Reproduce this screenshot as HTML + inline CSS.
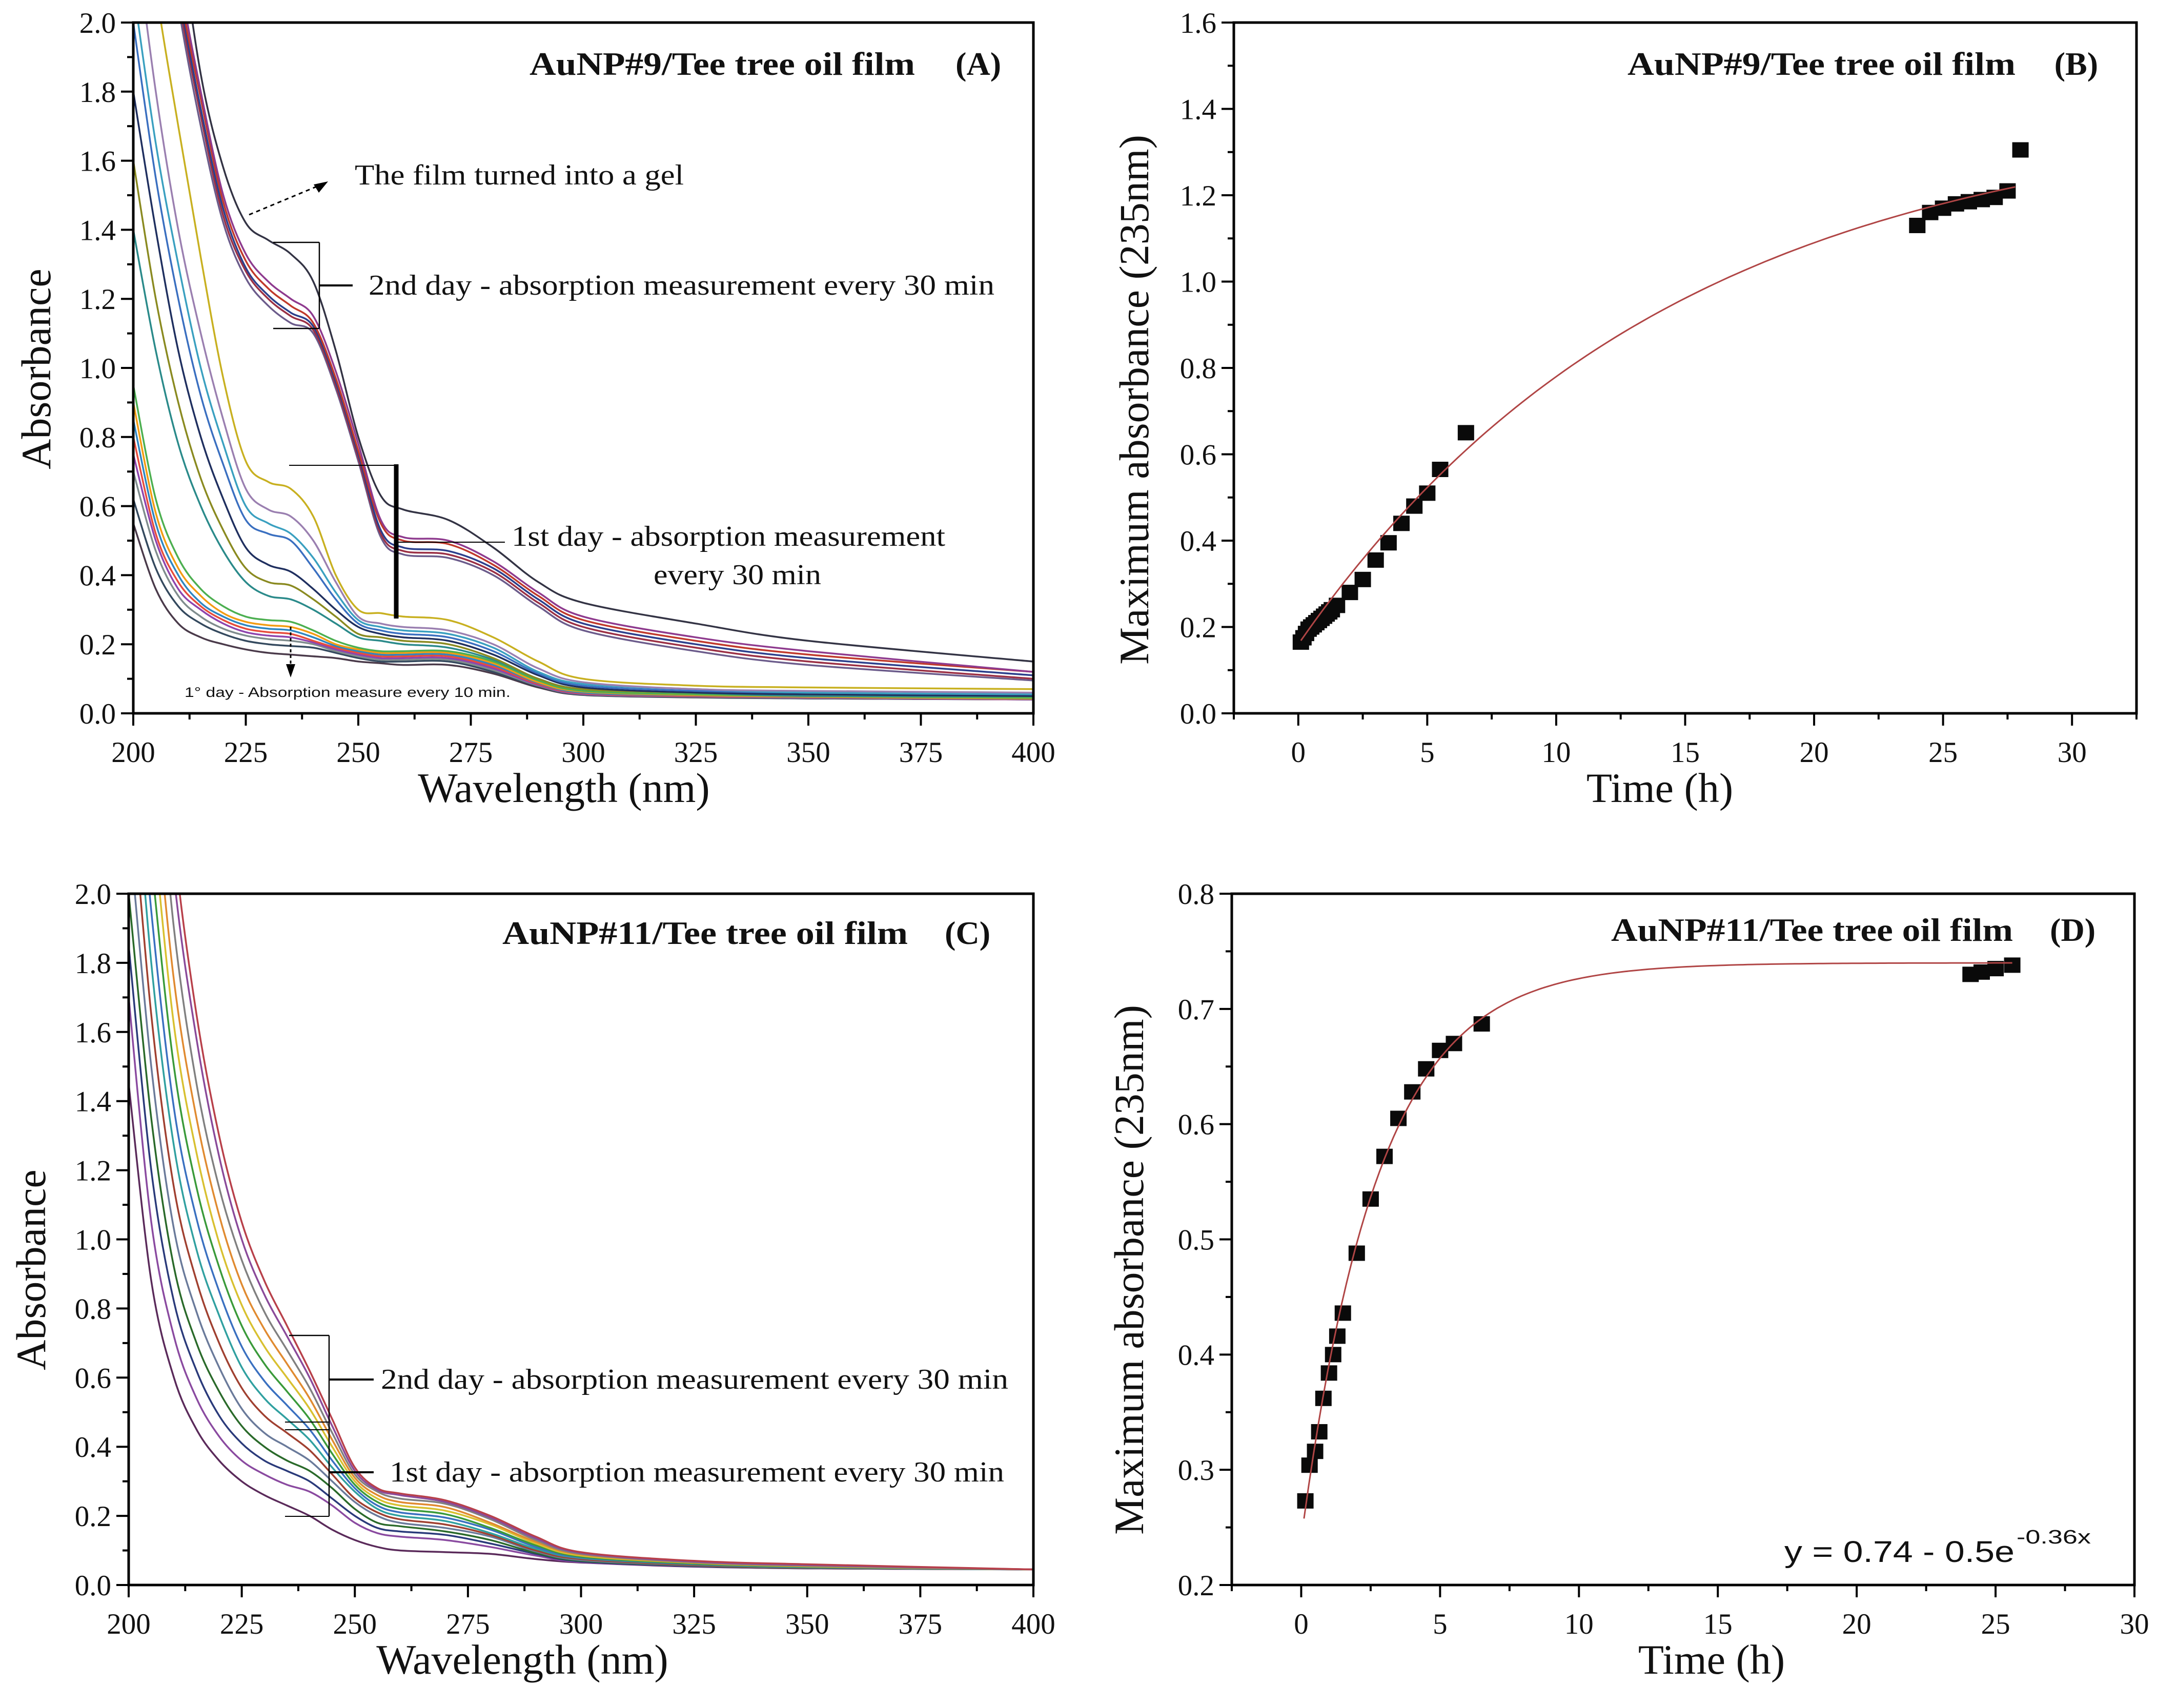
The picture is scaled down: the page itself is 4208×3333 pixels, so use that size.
<!DOCTYPE html>
<html><head><meta charset="utf-8"><style>
html,body{margin:0;padding:0;background:#fff;}
svg{display:block;}
text{fill:#111;}
</style></head><body>
<svg id="fig" width="4208" height="3333" viewBox="0 0 4208 3333" xmlns="http://www.w3.org/2000/svg" font-family="Liberation Serif, serif">
<rect width="4208" height="3333" fill="#fff"/>
<defs>
<clipPath id="clipA"><rect x="260" y="44" width="1756" height="1348"/></clipPath>
<clipPath id="clipC"><rect x="251" y="1744" width="1765" height="1349"/></clipPath>
<clipPath id="clipB"><rect x="2407" y="44" width="1761" height="1348"/></clipPath>
<clipPath id="clipD"><rect x="2403" y="1744" width="1761" height="1349"/></clipPath>
</defs>
<g id="panelA"></g>
<g id="panelB"></g>
<g id="panelC"></g>
<g id="panelD"></g>
</svg>
<script>
// ---------- data ----------
const wavelengths = [200,205,210,215,220,225,230,235,240,245,250,255,260,270,280,290,300,325,350,400];
const spectraA = [
[3.2,2.8,2.3,1.85,1.58,1.42,1.37,1.33,1.25,1.05,0.80,0.63,0.59,0.56,0.48,0.38,0.32,0.26,0.21,0.15],
[3.2,2.6,2.15,1.8,1.5,1.33,1.25,1.2,1.15,0.99,0.78,0.56,0.51,0.50,0.44,0.35,0.28,0.22,0.18,0.12],
[3.2,2.6,2.12,1.78,1.48,1.31,1.23,1.18,1.13,0.97,0.76,0.55,0.50,0.49,0.43,0.34,0.27,0.21,0.17,0.12],
[3.2,2.55,2.1,1.75,1.46,1.29,1.21,1.16,1.12,0.96,0.75,0.53,0.48,0.47,0.42,0.33,0.26,0.20,0.16,0.11],
[3.2,2.55,2.08,1.73,1.44,1.28,1.2,1.15,1.11,0.95,0.74,0.52,0.47,0.46,0.41,0.32,0.25,0.19,0.15,0.10],
[3.2,2.5,2.05,1.7,1.42,1.26,1.18,1.13,1.10,0.94,0.73,0.51,0.46,0.45,0.40,0.31,0.24,0.18,0.14,0.095],
[2.6,2.1,1.7,1.32,0.97,0.73,0.67,0.65,0.57,0.40,0.30,0.29,0.28,0.27,0.22,0.15,0.10,0.08,0.075,0.07],
[2.3,1.8,1.4,1.1,0.85,0.65,0.59,0.57,0.50,0.38,0.28,0.26,0.25,0.24,0.20,0.13,0.09,0.07,0.065,0.06],
[2.1,1.65,1.3,1.0,0.78,0.60,0.55,0.52,0.45,0.35,0.27,0.25,0.24,0.23,0.19,0.12,0.085,0.07,0.06,0.055],
[2.0,1.55,1.2,0.92,0.72,0.56,0.52,0.50,0.42,0.33,0.26,0.24,0.23,0.22,0.18,0.115,0.08,0.065,0.06,0.055],
[1.8,1.4,1.05,0.8,0.62,0.48,0.43,0.41,0.36,0.30,0.25,0.23,0.22,0.21,0.17,0.11,0.075,0.06,0.055,0.05],
[1.6,1.2,0.9,0.68,0.53,0.42,0.38,0.37,0.33,0.28,0.23,0.22,0.21,0.20,0.16,0.10,0.07,0.06,0.055,0.05],
[1.4,1.05,0.78,0.6,0.47,0.38,0.34,0.33,0.30,0.26,0.22,0.21,0.20,0.19,0.155,0.10,0.07,0.06,0.05,0.05],
[0.95,0.62,0.45,0.36,0.31,0.28,0.27,0.265,0.24,0.21,0.19,0.18,0.18,0.18,0.15,0.095,0.065,0.055,0.05,0.045],
[0.9,0.58,0.42,0.34,0.29,0.265,0.255,0.25,0.23,0.2,0.185,0.175,0.175,0.175,0.145,0.09,0.063,0.053,0.048,0.043],
[0.85,0.55,0.4,0.32,0.28,0.255,0.245,0.24,0.22,0.195,0.18,0.17,0.17,0.17,0.14,0.088,0.06,0.052,0.047,0.042],
[0.8,0.52,0.38,0.31,0.27,0.245,0.235,0.23,0.21,0.19,0.175,0.165,0.165,0.165,0.135,0.085,0.058,0.05,0.046,0.041],
[0.75,0.5,0.36,0.3,0.26,0.235,0.225,0.22,0.205,0.185,0.17,0.16,0.16,0.16,0.13,0.082,0.056,0.049,0.045,0.04],
[0.7,0.47,0.34,0.28,0.245,0.225,0.215,0.21,0.2,0.18,0.165,0.155,0.155,0.155,0.125,0.08,0.055,0.048,0.044,0.04],
[0.62,0.42,0.31,0.26,0.23,0.21,0.2,0.195,0.19,0.175,0.16,0.15,0.15,0.15,0.12,0.078,0.054,0.047,0.043,0.04],
[0.55,0.36,0.26,0.22,0.2,0.185,0.175,0.17,0.165,0.16,0.15,0.145,0.14,0.14,0.115,0.075,0.053,0.046,0.043,0.04]
];
const colorsA = ["#333344","#8e3a8e","#c0392b","#2b3f8c","#9b3045","#6b5b8b","#c8b020","#9a7fb0","#3aa0c0","#3a6fc0","#1f2f5f","#8a8a20","#2a8a8a","#4caf50","#f39c12","#2e86c1","#e74c3c","#8e44ad","#7f8c8d","#34495e","#4a3a4a"];
const spectraC = [
[3.5,2.9,2.15,1.65,1.3,1.05,0.88,0.75,0.62,0.48,0.34,0.28,0.265,0.245,0.2,0.14,0.095,0.07,0.06,0.045],
[3.3,2.8,2.05,1.58,1.24,1.0,0.84,0.72,0.6,0.46,0.33,0.275,0.26,0.24,0.195,0.135,0.093,0.068,0.058,0.045],
[3.1,2.6,1.9,1.45,1.15,0.94,0.79,0.68,0.57,0.44,0.32,0.27,0.25,0.235,0.19,0.13,0.09,0.066,0.056,0.045],
[3.0,2.4,1.75,1.35,1.07,0.87,0.74,0.64,0.54,0.42,0.31,0.26,0.24,0.225,0.18,0.125,0.088,0.065,0.055,0.045],
[2.9,2.25,1.62,1.25,0.99,0.81,0.69,0.6,0.51,0.4,0.3,0.25,0.23,0.215,0.175,0.12,0.085,0.064,0.054,0.045],
[2.8,2.1,1.5,1.15,0.92,0.75,0.64,0.56,0.48,0.38,0.29,0.24,0.22,0.205,0.165,0.115,0.082,0.062,0.053,0.045],
[2.7,1.95,1.38,1.06,0.85,0.69,0.59,0.52,0.45,0.36,0.28,0.23,0.21,0.195,0.16,0.11,0.08,0.061,0.052,0.045],
[2.6,1.8,1.27,0.97,0.78,0.63,0.54,0.48,0.42,0.34,0.27,0.22,0.2,0.185,0.15,0.105,0.078,0.06,0.051,0.045],
[2.4,1.65,1.15,0.88,0.7,0.57,0.49,0.44,0.39,0.32,0.25,0.21,0.19,0.175,0.145,0.1,0.075,0.058,0.05,0.045],
[2.2,1.5,1.03,0.79,0.63,0.51,0.44,0.4,0.36,0.3,0.24,0.2,0.18,0.165,0.14,0.097,0.072,0.057,0.05,0.045],
[2.0,1.35,0.92,0.7,0.56,0.46,0.4,0.36,0.33,0.28,0.22,0.18,0.17,0.155,0.13,0.093,0.07,0.056,0.049,0.045],
[1.85,1.2,0.82,0.62,0.49,0.41,0.36,0.33,0.3,0.25,0.2,0.165,0.155,0.145,0.12,0.09,0.068,0.055,0.049,0.045],
[1.7,1.05,0.72,0.54,0.43,0.36,0.32,0.29,0.27,0.23,0.18,0.15,0.14,0.13,0.11,0.085,0.066,0.054,0.048,0.045],
[1.45,0.88,0.6,0.45,0.36,0.3,0.26,0.23,0.2,0.16,0.13,0.11,0.1,0.095,0.09,0.075,0.065,0.053,0.048,0.045]
];
const colorsC = ["#b8404a","#8a4a9a","#808080","#e08a30","#d8c030","#3a9a3a","#3a70c0","#30a0a0","#a04030","#6a7a9a","#2a6a2a","#2a3a7a","#8a4aa0","#5a2a5a"];
const timeB = [0.1,0.2,0.3,0.4,0.5,0.6,0.7,0.8,0.9,1.0,1.1,1.2,1.3,1.5,2.0,2.5,3.0,3.5,4.0,4.5,5.0,5.5,6.5,24,24.5,25,25.5,26,26.5,27,27.5,28];
const absB = [0.165,0.175,0.185,0.195,0.2,0.205,0.21,0.215,0.22,0.225,0.23,0.235,0.24,0.25,0.28,0.31,0.355,0.395,0.44,0.48,0.51,0.565,0.65,1.13,1.16,1.17,1.18,1.185,1.19,1.195,1.21,1.305];
const fitB = [1.40,1.24,0.0693]; // a, b, k : y = a - b e^{-kx}
const fitBRange = [0.1,27.8];
const timeD = [0.15,0.3,0.5,0.65,0.8,1.0,1.15,1.3,1.5,2.0,2.5,3.0,3.5,4.0,4.5,5.0,5.5,6.5,24.1,24.5,25.0,25.6];
const absD = [0.273,0.304,0.316,0.333,0.362,0.384,0.4,0.416,0.436,0.488,0.535,0.572,0.605,0.628,0.648,0.664,0.670,0.687,0.730,0.732,0.735,0.738];
const fitD = [0.74,0.5,0.36];
const fitDRange = [0.1,25.6];
const ticksAx = [200,225,250,275,300,325,350,375,400];
const ticksAy = [0.0,0.2,0.4,0.6,0.8,1.0,1.2,1.4,1.6,1.8,2.0];
const ticksBx = [0,5,10,15,20,25,30];
const ticksBy = [0.0,0.2,0.4,0.6,0.8,1.0,1.2,1.4,1.6];
const ticksDy = [0.2,0.3,0.4,0.5,0.6,0.7,0.8];

// ---------- helpers ----------
const NS="http://www.w3.org/2000/svg";
const SERIF="font-family:'Liberation Serif',serif";
const SANS="font-family:'Liberation Sans',sans-serif";
function mk(parent,tag,attrs){const e=document.createElementNS(NS,tag);for(const k in attrs)e.setAttribute(k,attrs[k]);parent.appendChild(e);return e;}
function lin(d0,d1,r0,r1){return v=>r0+(v-d0)/(d1-d0)*(r1-r0);}
function smoothPath(pts){
  let d="M"+pts[0][0].toFixed(1)+","+pts[0][1].toFixed(1);
  for(let i=0;i<pts.length-1;i++){
    const p0=pts[Math.max(0,i-1)],p1=pts[i],p2=pts[i+1],p3=pts[Math.min(pts.length-1,i+2)];
    const c1x=p1[0]+(p2[0]-p0[0])/6,c1y=p1[1]+(p2[1]-p0[1])/6;
    const c2x=p2[0]-(p3[0]-p1[0])/6,c2y=p2[1]-(p3[1]-p1[1])/6;
    d+=" C"+c1x.toFixed(1)+","+c1y.toFixed(1)+" "+c2x.toFixed(1)+","+c2y.toFixed(1)+" "+p2[0].toFixed(1)+","+p2[1].toFixed(1);
  }
  return d;
}
function axes(g,L,R,T,B,sx,sy,xt,xminor,yt,yminor,xtitle,ytitle,ytitleX,ytitleY,xtitleX){
  const fr=mk(g,"rect",{x:L,y:T,width:R-L,height:B-T,fill:"none",stroke:"#000","stroke-width":5});
  
  
  xminor.forEach(v=>{const l=mk(g,"line",{x1:sx(v),x2:sx(v),y1:B,y2:B+12,stroke:"#000","stroke-width":4});
    
    });
  xt.forEach(v=>{const l=mk(g,"line",{x1:sx(v),x2:sx(v),y1:B,y2:B+24,stroke:"#000","stroke-width":4});
    
    
    const t=mk(g,"text",{x:sx(v),y:B+95,"text-anchor":"middle","font-size":57,style:SERIF});t.textContent=String(v);
    
    });
  yminor.forEach(v=>{const l=mk(g,"line",{x1:L-12,x2:L,y1:sy(v),y2:sy(v),stroke:"#000","stroke-width":4});
    
    });
  yt.forEach(v=>{const l=mk(g,"line",{x1:L-24,x2:L,y1:sy(v),y2:sy(v),stroke:"#000","stroke-width":4});
    
    
    const t=mk(g,"text",{x:L-34,y:sy(v)+20,"text-anchor":"end","font-size":57,style:SERIF});t.textContent=v.toFixed(1);
    
    });
  const xtl=mk(g,"text",{x:xtitleX,y:B+173,"text-anchor":"middle","font-size":82,style:SERIF});xtl.textContent=xtitle;
  
  
  const ytl=mk(g,"text",{x:0,y:0,"text-anchor":"middle","font-size":82,style:SERIF,transform:"translate("+(ytitleX+28)+","+ytitleY+") rotate(-90)"});ytl.textContent=ytitle;
  
  
}
function range(a,b,s){const r=[];for(let v=a;v<=b+1e-9;v+=s)r.push(+v.toFixed(4));return r;}
function title(g,x1,len,x2,y,main,tag){
  const t=mk(g,"text",{x:x1,y:y,"font-size":64,"font-weight":"bold",style:SERIF,textLength:len,lengthAdjust:"spacingAndGlyphs"});t.textContent=main;
  
  
  const t2=mk(g,"text",{x:x2,y:y,"font-size":64,"font-weight":"bold","text-anchor":"end",style:SERIF});t2.textContent=tag;
  
  
}
function line(g,x1,y1,x2,y2,w,name,dash){const l=mk(g,"line",{x1:x1,y1:y1,x2:x2,y2:y2,stroke:"#000","stroke-width":w});if(dash)l.setAttribute("stroke-dasharray",dash);
  
  return l;}
function txt(g,x,y,s,size,len,name,fam){const t=mk(g,"text",{x:x,y:y,"font-size":size,style:fam||SERIF,textLength:len,lengthAdjust:"spacingAndGlyphs"});t.textContent=s;
  
  return t;}

// ---------- Panel A ----------
(function(){
  const g=document.getElementById("panelA");
  const L=260,R=2016,T=44,B=1392;
  const sx=lin(200,400,L,R),sy=lin(0,2,B,T);
  const cg=mk(g,"g",{"clip-path":"url(#clipA)"});
  
  
  for(let i=spectraA.length-1;i>=0;i--){
    const pts=wavelengths.map((w,j)=>[sx(w),sy(spectraA[i][j])]);
    const p=mk(cg,"path",{d:smoothPath(pts),fill:"none",stroke:colorsA[i],"stroke-width":3.5});
    
    
  }
  axes(g,L,R,T,B,sx,sy,ticksAx,range(212.5,387.5,25),ticksAy,range(0.1,1.9,0.2),"Wavelength (nm)","Absorbance",70,720,1100);
  title(g,1033,752,1953,146,"AuNP#9/Tee tree oil film","(A)");
  txt(g,692,360,"The film turned into a gel",56,642,"gel-annotation");
  line(g,486,419,625,361,3,"gel-arrow","8,7");
  mk(g,"path",{d:"M640,354 L612,360 L622,376 Z",fill:"#000"});
  line(g,533,473,623,473,2.5,"bracket-top");
  line(g,533,641,623,641,2.5,"bracket-bottom");
  line(g,623,473,623,641,2.5,"bracket-vertical");
  line(g,623,557,688,557,4,"bracket-tick");
  txt(g,719,575,"2nd day - absorption measurement  every 30 min",56,1221,"day2-annotation");
  line(g,564,908,773,908,2,"day1-top-line");
  line(g,773,906,773,1207,9,"day1-thick-bar");
  line(g,773,1058,985,1058,2,"day1-pointer");
  txt(g,998,1065,"1st day - absorption measurement",56,846,"day1-annotation");
  txt(g,1275,1140,"every 30 min",56,327,"day1-annotation-2");
  line(g,567,1223,567,1300,3,"10min-arrow","6,5");
  mk(g,"path",{d:"M558,1296 L576,1296 L567,1322 Z",fill:"#000"});
  txt(g,360,1360,"1° day - Absorption measure every 10 min.",27,636,"10min-annotation",SANS);
})();

// ---------- Panel C ----------
(function(){
  const g=document.getElementById("panelC");
  const L=251,R=2016,T=1744,B=3093;
  const sx=lin(200,400,L,R),sy=lin(0,2,B,T);
  const cg=mk(g,"g",{"clip-path":"url(#clipC)"});
  
  
  for(let i=spectraC.length-1;i>=0;i--){
    const pts=wavelengths.map((w,j)=>[sx(w),sy(spectraC[i][j])]);
    const p=mk(cg,"path",{d:smoothPath(pts),fill:"none",stroke:colorsC[i],"stroke-width":3.5});
    
    
  }
  axes(g,L,R,T,B,sx,sy,ticksAx,range(212.5,387.5,25),ticksAy,range(0.1,1.9,0.2),"Wavelength (nm)","Absorbance",60,2478,1019);
  title(g,980,791,1932,1842,"AuNP#11/Tee tree oil film","(C)");
  line(g,564,2606,642,2606,2.5,"bracket2-top");
  line(g,642,2606,642,2959,2.5,"bracket-vertical");
  line(g,556,2775,642,2775,2,"bracket2-bottom");
  line(g,556,2790,642,2790,2,"bracket1-top");
  line(g,556,2959,642,2959,2,"bracket1-bottom");
  line(g,642,2692,729,2692,4,"bracket2-tick");
  line(g,642,2873,729,2873,4,"bracket1-tick");
  txt(g,743,2710,"2nd day - absorption measurement  every 30 min",56,1224,"day2-annotation");
  txt(g,760,2891,"1st day - absorption measurement  every 30 min",56,1199,"day1-annotation");
})();

// ---------- Panel B ----------
(function(){
  const g=document.getElementById("panelB");
  const L=2407,R=4168,T=44,B=1392;
  const sx=lin(-2.5,32.5,L,R),sy=lin(0,1.6,B,T);
  const cg=mk(g,"g",{"clip-path":"url(#clipB)"});
  
  
  timeB.forEach((t,i)=>{const r=mk(cg,"rect",{x:sx(t)-16,y:sy(absB[i])-15,width:32,height:30,fill:"#0a0a0a"});
    
    });
  const fp=[];for(let k=0;k<=100;k++){const x=fitBRange[0]+(fitBRange[1]-fitBRange[0])*k/100;fp.push([sx(x),sy(fitB[0]-fitB[1]*Math.exp(-fitB[2]*x))]);}
  const f=mk(cg,"path",{d:"M"+fp.map(p=>p[0].toFixed(1)+","+p[1].toFixed(1)).join(" L"),fill:"none",stroke:"#b04545","stroke-width":3});
  
  
  axes(g,L,R,T,B,sx,sy,ticksBx,range(-2.5,32.5,5),ticksBy,range(0.1,1.5,0.2),"Time (h)","Maximum absorbance (235nm)",2212,780,3238);
  title(g,3175,757,4093,146,"AuNP#9/Tee tree oil film","(B)");
})();

// ---------- Panel D ----------
(function(){
  const g=document.getElementById("panelD");
  const L=2403,R=4164,T=1744,B=3093;
  const sx=lin(-2.5,30,L,R),sy=lin(0.2,0.8,B,T);
  const cg=mk(g,"g",{"clip-path":"url(#clipD)"});
  
  
  timeD.forEach((t,i)=>{const r=mk(cg,"rect",{x:sx(t)-16,y:sy(absD[i])-15,width:32,height:30,fill:"#0a0a0a"});
    
    });
  const fp=[];for(let k=0;k<=150;k++){const x=fitDRange[0]+(fitDRange[1]-fitDRange[0])*k/150;fp.push([sx(x),sy(fitD[0]-fitD[1]*Math.exp(-fitD[2]*x))]);}
  const f=mk(cg,"path",{d:"M"+fp.map(p=>p[0].toFixed(1)+","+p[1].toFixed(1)).join(" L"),fill:"none",stroke:"#b04545","stroke-width":3});
  
  
  axes(g,L,R,T,B,sx,sy,ticksBx,range(-2.5,27.5,5),ticksDy,range(0.25,0.75,0.1),"Time (h)","Maximum absorbance (235nm)",2202,2478,3339);
  title(g,3143,784,4088,1836,"AuNP#11/Tee tree oil film","(D)");
  const eq=mk(g,"text",{x:3481,y:3048,"font-size":58,style:SANS,textLength:449,lengthAdjust:"spacingAndGlyphs"});
  
  
  eq.textContent="y = 0.74 - 0.5e";
  const sup=mk(g,"text",{x:3934,y:3012,"font-size":38,style:SANS,textLength:145,lengthAdjust:"spacingAndGlyphs"});
  
  
  sup.textContent="-0.36x";
})();
</script>
</body></html>
